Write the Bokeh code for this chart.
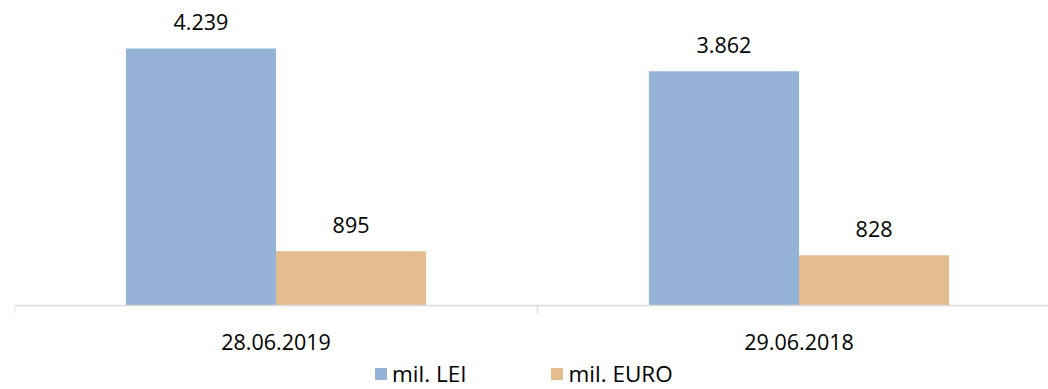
from bokeh.plotting import figure
from bokeh.models import Legend, LegendItem, ColumnDataSource, Range1d, Span
from bokeh.core.properties import value
from bokeh.embed import file_html
from bokeh.resources import INLINE

categories = ["28.06.2019", "29.06.2018"]
lei = [4239, 3862]
euro = [895, 828]
series_names = ["mil. LEI", "mil. EURO"]
colors = ["#95B3D7", "#E4BD8E"]


def fmt(v):
    return f"{v:,}".replace(",", ".")


FONT = "Open Sans"
FS = "21.5px"
LEG_FS = "22.5px"
AXIS_COLOR = "#D9D9D9"
bw = 0.287
centers = [i + 0.5 for i in range(len(categories))]
tick_pos = list(range(len(categories) + 1))

# pixel geometry of the plotting area
PLOT_H = 305      # pixels from top to the category axis
BOTTOM_H = 84     # pixels below the axis for labels and legend
YMAX = 5030
upp = YMAX / PLOT_H   # data units per pixel

p = figure(frame_width=1034, frame_height=PLOT_H + BOTTOM_H, output_backend="svg",
           toolbar_location=None,
           x_range=Range1d(0, 1034 / 523), y_range=Range1d(-BOTTOM_H * upp, YMAX),
           x_axis_location=None, y_axis_location=None,
           min_border_left=14, min_border_right=0, min_border_top=0, min_border_bottom=0)
p.outline_line_color = None
p.xgrid.visible = False
p.ygrid.visible = False
p.background_fill_color = "white"

src_lei = ColumnDataSource(dict(x=[c - bw / 2 for c in centers], top=lei,
                                label=[fmt(v) for v in lei]))
src_eur = ColumnDataSource(dict(x=[c + bw / 2 for c in centers], top=euro,
                                label=[fmt(v) for v in euro]))

r1 = p.vbar(x="x", top="top", bottom=0, width=bw, source=src_lei, fill_color=colors[0], line_color=None)
r2 = p.vbar(x="x", top="top", bottom=0, width=bw, source=src_eur, fill_color=colors[1], line_color=None)

for src in (src_lei, src_eur):
    p.text(x="x", y="top", text="label", source=src, text_align="center",
           text_baseline="alphabetic", y_offset=-26, text_font=value(FONT),
           text_font_size=FS, text_color="#000000")

# category axis: baseline, tick marks between categories, category labels
p.add_layout(Span(location=0, dimension="width", line_color=AXIS_COLOR, line_width=1.5))
p.segment(x0=tick_pos, y0=[0] * len(tick_pos), x1=tick_pos, y1=[-8 * upp] * len(tick_pos),
          line_color=AXIS_COLOR, line_width=1.5)
p.text(x=centers, y=[0] * len(centers), text=categories, text_align="center",
       text_baseline="middle", y_offset=36, text_font=value(FONT),
       text_font_size=FS, text_color="#000000")

legend = Legend(items=[LegendItem(label=series_names[0], renderers=[r1]),
                       LegendItem(label=series_names[1], renderers=[r2])],
                orientation="horizontal", location=(359, 0),
                glyph_width=15, glyph_height=15, label_standoff=4, spacing=83,
                label_text_font=FONT, label_text_font_size=LEG_FS, label_text_color="#000000",
                border_line_color=None, background_fill_alpha=0, padding=0, margin=0)
p.add_layout(legend, "center")

open("out.html", "w").write(file_html(p, INLINE))
